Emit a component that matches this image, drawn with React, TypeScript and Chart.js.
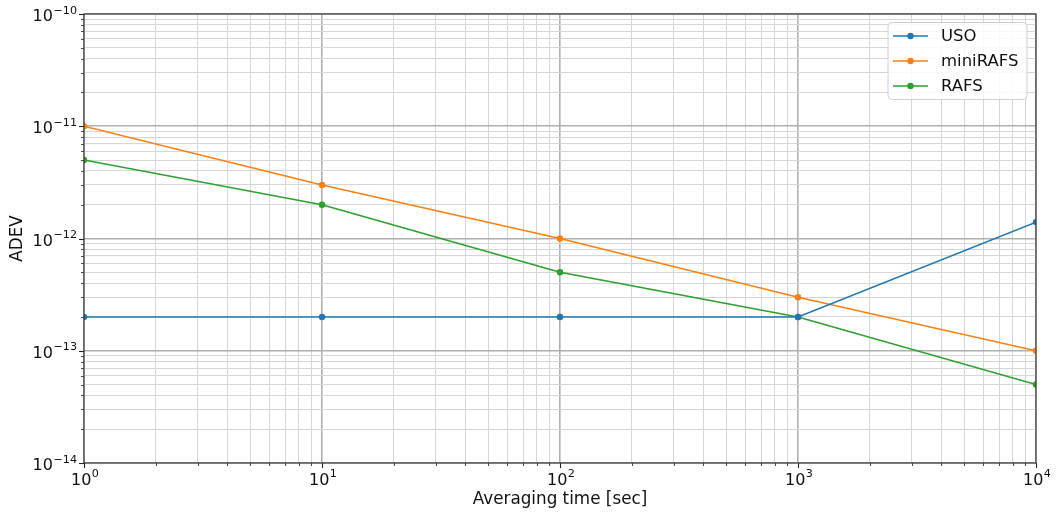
import { useEffect, useRef } from 'react';
import { Chart, registerables } from 'chart.js';

Chart.register(...registerables);

// Averaging times (s) and Allan deviation per oscillator
const durations = [1, 10, 100, 1000, 10000];
const usoAdev = [2e-13, 2e-13, 2e-13, 2e-13, 1.4e-12];
const miniRafsAdev = [1e-11, 3e-12, 1e-12, 3e-13, 1e-13];
const rafsAdev = [5e-12, 2e-12, 5e-13, 2e-13, 5e-14];

const seriesNames = ['USO', 'miniRAFS', 'RAFS'];
const seriesColors = ['#1f77b4', '#ff7f0e', '#2ca02c'];

// Decade exponents spanned by each axis
const xDecades = [0, 1, 2, 3, 4];
const yDecades = [-14, -13, -12, -11, -10];

const xTitle = 'Averaging time [sec]';
const yTitle = 'ADEV';

const FONT = "'DejaVu Sans', sans-serif";
const BASE_SIZE = 16;
const EXP_SIZE = 11.2;

const isPow10 = (v: number) => {
  const l = Math.log10(v);
  return Math.abs(l - Math.round(l)) < 1e-6;
};

function decadeTicks(decades: number[]) {
  const out: { value: number; major: boolean }[] = [];
  decades.forEach((e, i) => {
    const last = i === decades.length - 1;
    for (let k = 1; k <= (last ? 1 : 9); k++) {
      out.push({ value: Number((k * Math.pow(10, e)).toPrecision(10)), major: k === 1 });
    }
  });
  return out;
}

const gridColor = (ctx: any) => (ctx.tick && ctx.tick.major ? '#b0b0b0' : '#d6d6d6');
const gridWidth = (ctx: any) => (ctx.tick && ctx.tick.major ? 1.6 : 1);

// Draws "10" with a raised exponent; returns nothing, anchored at the left of the text
function drawPower(ctx: CanvasRenderingContext2D, e: number, left: number, baseline: number) {
  const exp = String(e).replace('-', '\u2212');
  ctx.font = `${BASE_SIZE}px ${FONT}`;
  const wb = ctx.measureText('10').width;
  ctx.fillText('10', left, baseline);
  ctx.font = `${EXP_SIZE}px ${FONT}`;
  ctx.fillText(exp, left + wb + 0.5, baseline - 7.5);
}

function powerWidth(ctx: CanvasRenderingContext2D, e: number) {
  const exp = String(e).replace('-', '\u2212');
  ctx.font = `${BASE_SIZE}px ${FONT}`;
  const wb = ctx.measureText('10').width;
  ctx.font = `${EXP_SIZE}px ${FONT}`;
  return wb + 0.5 + ctx.measureText(exp).width;
}

// Spines, outward tick marks, decade labels and the in-plot legend
const decorations = {
  id: 'decorations',
  afterDraw(chart: any) {
    const { ctx, chartArea: a } = chart;
    ctx.save();
    ctx.strokeStyle = '#222';
    const xs = chart.scales.x;
    const ys = chart.scales.y;
    xs.ticks.forEach((t: any) => {
      const px = Math.round(xs.getPixelForValue(t.value)) + 0.5;
      ctx.lineWidth = t.major ? 1.1 : 0.8;
      ctx.beginPath();
      ctx.moveTo(px, a.bottom);
      ctx.lineTo(px, a.bottom + (t.major ? 5 : 3));
      ctx.stroke();
    });
    ys.ticks.forEach((t: any) => {
      const py = Math.round(ys.getPixelForValue(t.value)) + 0.5;
      ctx.lineWidth = t.major ? 1.1 : 0.8;
      ctx.beginPath();
      ctx.moveTo(a.left, py);
      ctx.lineTo(a.left - (t.major ? 5 : 3), py);
      ctx.stroke();
    });
    ctx.lineWidth = 1.1;
    ctx.strokeStyle = '#333';
    ctx.strokeRect(a.left, a.top, a.right - a.left, a.bottom - a.top);

    // decade labels
    ctx.fillStyle = '#111';
    ctx.textBaseline = 'alphabetic';
    ctx.textAlign = 'left';
    xs.ticks.forEach((t: any) => {
      if (!isPow10(t.value)) return;
      const e = Math.round(Math.log10(t.value));
      const px = xs.getPixelForValue(t.value);
      const w = powerWidth(ctx, e);
      drawPower(ctx, e, px - w / 2 + 1, a.bottom + 21.5);
    });
    ys.ticks.forEach((t: any) => {
      if (!isPow10(t.value)) return;
      const e = Math.round(Math.log10(t.value));
      const py = ys.getPixelForValue(t.value);
      const w = powerWidth(ctx, e);
      drawPower(ctx, e, a.left - 7 - w, py + 7);
    });

    // legend
    const w = 139;
    const h = 77;
    const lx = a.right - 9 - w;
    const ly = a.top + 8.5;
    ctx.beginPath();
    ctx.roundRect(lx, ly, w, h, 4);
    ctx.fillStyle = 'rgba(255,255,255,0.85)';
    ctx.fill();
    ctx.strokeStyle = '#d0d0d0';
    ctx.lineWidth = 1;
    ctx.stroke();
    ctx.font = `16.5px ${FONT}`;
    ctx.textBaseline = 'middle';
    chart.data.datasets.forEach((ds: any, i: number) => {
      const cy = ly + 13.5 + i * 25;
      ctx.strokeStyle = ds.borderColor;
      ctx.lineWidth = 1.5;
      ctx.beginPath();
      ctx.moveTo(lx + 5, cy);
      ctx.lineTo(lx + 40, cy);
      ctx.stroke();
      ctx.fillStyle = ds.borderColor;
      ctx.beginPath();
      ctx.arc(lx + 22.5, cy, 3.2, 0, Math.PI * 2);
      ctx.fill();
      ctx.fillStyle = '#111';
      ctx.fillText(ds.label, lx + 53, cy + 1);
    });
    ctx.restore();
  },
};

export default function App() {
  const ref = useRef<HTMLCanvasElement>(null);

  useEffect(() => {
    document.body.style.margin = '0';
    const series = [usoAdev, miniRafsAdev, rafsAdev];
    const chart = new Chart(ref.current!, {
      type: 'line',
      data: {
        datasets: series.map((vals, i) => ({
          label: seriesNames[i],
          data: durations.map((d, j) => ({ x: d, y: vals[j] })),
          borderColor: seriesColors[i],
          backgroundColor: seriesColors[i],
          borderWidth: 1.5,
          pointRadius: 3.2,
          pointBorderWidth: 0,
          pointHoverRadius: 3.2,
          tension: 0,
          clip: 0,
        })),
      },
      options: {
        animation: false,
        responsive: false,
        devicePixelRatio: 1,
        layout: { padding: { left: 0, right: 21, top: 14, bottom: 0 } },
        plugins: { legend: { display: false }, tooltip: { enabled: false } },
        events: [],
        scales: {
          x: {
            type: 'logarithmic',
            min: Math.pow(10, xDecades[0]),
            max: Math.pow(10, xDecades[xDecades.length - 1]),
            afterBuildTicks: (s: any) => {
              s.ticks = decadeTicks(xDecades);
            },
            afterFit: (s: any) => {
              s.height = 51;
            },
            grid: { color: gridColor, lineWidth: gridWidth, drawTicks: false },
            border: { display: false },
            ticks: { autoSkip: false, maxRotation: 0, padding: 0, callback: () => '' },
            title: {
              display: true,
              text: xTitle,
              color: '#111',
              font: { family: FONT, size: 16.8 },
              padding: { top: 4, bottom: 4.5 },
            },
          },
          y: {
            type: 'logarithmic',
            min: Math.pow(10, yDecades[0]),
            max: Math.pow(10, yDecades[yDecades.length - 1]),
            afterBuildTicks: (s: any) => {
              s.ticks = decadeTicks(yDecades);
            },
            afterFit: (s: any) => {
              s.width = 84;
            },
            grid: { color: gridColor, lineWidth: gridWidth, drawTicks: false },
            border: { display: false },
            ticks: { autoSkip: false, padding: 0, callback: () => '' },
            title: {
              display: true,
              text: yTitle,
              color: '#111',
              font: { family: FONT, size: 16.8 },
              padding: { top: 7.5, bottom: 0 },
            },
          },
        },
      },
      plugins: [decorations],
    });
    return () => chart.destroy();
  }, []);

  return (
    <div style={{ width: 1057, height: 514 }}>
      <canvas ref={ref} width={1057} height={514} />
    </div>
  );
}
